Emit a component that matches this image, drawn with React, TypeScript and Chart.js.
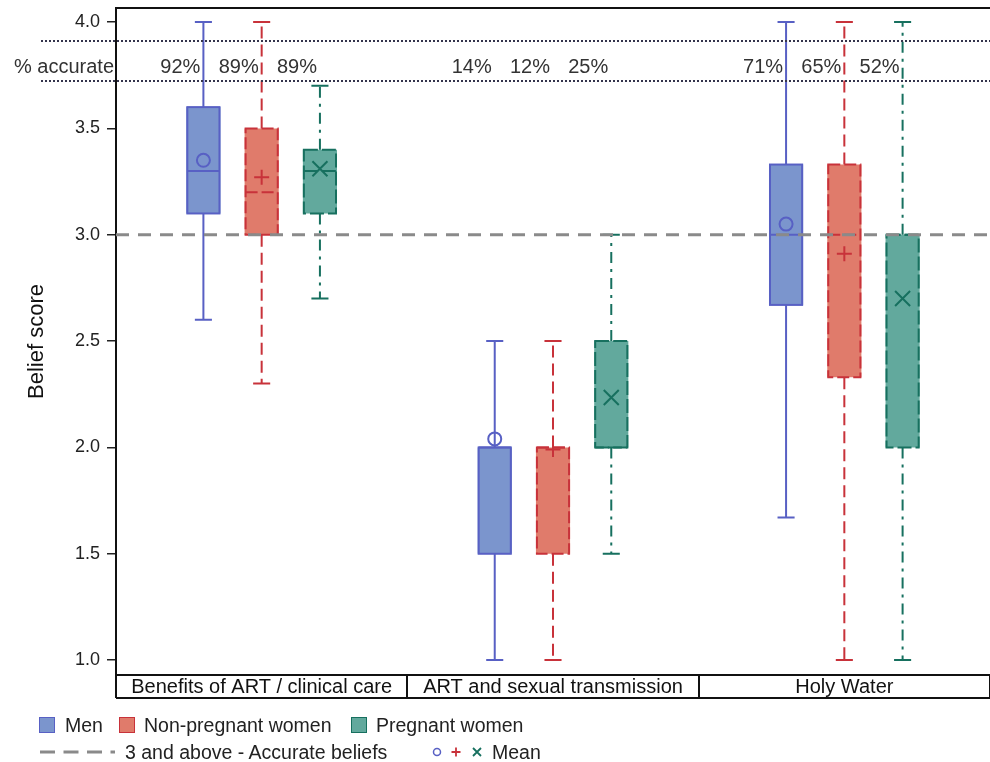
import React, { useEffect, useRef } from 'react';
import { Chart, registerables } from 'chart.js';
Chart.register(...registerables);

const FONT = '"Liberation Sans", Arial, Helvetica, sans-serif';

const CATEGORIES = ['Benefits of ART / clinical care', 'ART and sexual transmission', 'Holy Water'];
const SERIES_NAMES = ['Men', 'Non-pregnant women', 'Pregnant women'];
// five-number summaries per category: [min, q1, median, q3, max]
const MEN_BOX = [[2.6, 3.1, 3.3, 3.6, 4.0], [1.0, 1.5, 2.0, 2.0, 2.5], [1.67, 2.67, 3.0, 3.33, 4.0]];
const NONPREG_BOX = [[2.3, 3.0, 3.2, 3.5, 4.0], [1.0, 1.5, 2.0, 2.0, 2.5], [1.0, 2.33, 3.0, 3.33, 4.0]];
const PREG_BOX = [[2.7, 3.1, 3.3, 3.4, 3.7], [1.5, 2.0, 2.0, 2.5, 3.0], [1.0, 2.0, 3.0, 3.0, 4.0]];
const MEN_MEAN = [3.35, 2.04, 3.05];
const NONPREG_MEAN = [3.27, 1.99, 2.91];
const PREG_MEAN = [3.31, 2.235, 2.7];
const MEN_PCT = [92, 14, 71];
const NONPREG_PCT = [89, 12, 65];
const PREG_PCT = [89, 25, 52];
const Y_TICKS = [1.0, 1.5, 2.0, 2.5, 3.0, 3.5, 4.0];
const Y_MIN = 0.93;
const Y_MAX = 4.066;
const ACCURATE_THRESHOLD = 3.0;
const ACC_ROW_LINES = [3.723, 3.911];
const ACC_ROW_TEXT = 3.786;

const BOXES = [MEN_BOX, NONPREG_BOX, PREG_BOX];
const MEANS = [MEN_MEAN, NONPREG_MEAN, PREG_MEAN];
const PCTS = [MEN_PCT, NONPREG_PCT, PREG_PCT];

const FILLS = ['#7b95cd', '#e07b6b', '#62a99d'];
const BORDERS = ['#5860c4', '#c8323a', '#17705f'];
const WHISKER_DASH = [[], [12, 6], [11, 6, 3, 6]];
const BOX_DASH = [[], [12, 4], [14, 4]];

function drawMarker(ctx: CanvasRenderingContext2D, kind: number, x: number, y: number) {
  ctx.beginPath();
  if (kind === 0) {
    ctx.arc(x, y, 6.5, 0, Math.PI * 2);
  } else if (kind === 1) {
    ctx.moveTo(x - 7.5, y);
    ctx.lineTo(x + 7.5, y);
    ctx.moveTo(x, y - 7.5);
    ctx.lineTo(x, y + 7.5);
  } else {
    ctx.moveTo(x - 7.5, y - 7.5);
    ctx.lineTo(x + 7.5, y + 7.5);
    ctx.moveTo(x + 7.5, y - 7.5);
    ctx.lineTo(x - 7.5, y + 7.5);
  }
  ctx.stroke();
}

const boxPlugin = {
  id: 'boxExtras',
  afterDatasetsDraw(chart: any) {
    const ctx = chart.ctx;
    const ys = chart.scales.y;
    const xs = chart.scales.x;
    const { left, right, top } = chart.chartArea;
    ctx.save();
    BOXES.forEach((box, d) => {
      const meta = chart.getDatasetMeta(d);
      meta.data.forEach((el: any, i: number) => {
        const [mn, q1, med, q3, mx] = box[i];
        const x = el.x;
        const w = el.width;
        const pMin = ys.getPixelForValue(mn);
        const pQ1 = ys.getPixelForValue(q1);
        const pMed = ys.getPixelForValue(med);
        const pQ3 = ys.getPixelForValue(q3);
        const pMax = ys.getPixelForValue(mx);
        ctx.strokeStyle = BORDERS[d];
        ctx.lineWidth = 2;
        ctx.setLineDash(WHISKER_DASH[d]);
        ctx.beginPath();
        ctx.moveTo(x, pQ3);
        ctx.lineTo(x, pMax);
        ctx.moveTo(x, pQ1);
        ctx.lineTo(x, pMin);
        ctx.stroke();
        ctx.setLineDash([]);
        ctx.beginPath();
        ctx.moveTo(x - w / 4, pMax);
        ctx.lineTo(x + w / 4, pMax);
        ctx.moveTo(x - w / 4, pMin);
        ctx.lineTo(x + w / 4, pMin);
        ctx.stroke();
        ctx.setLineDash(BOX_DASH[d]);
        ctx.strokeRect(x - w / 2 + 1, pQ3, w - 2, pQ1 - pQ3);
        ctx.beginPath();
        ctx.moveTo(x - w / 2 + 1, pMed);
        ctx.lineTo(x + w / 2 - 1, pMed);
        ctx.stroke();
        ctx.setLineDash([]);
        drawMarker(ctx, d, x, ys.getPixelForValue(MEANS[d][i]));
      });
    });
    ctx.setLineDash([13, 9]);
    ctx.strokeStyle = '#8a8a8a';
    ctx.lineWidth = 3;
    const pRef = ys.getPixelForValue(ACCURATE_THRESHOLD);
    ctx.beginPath();
    ctx.moveTo(left, pRef);
    ctx.lineTo(right, pRef);
    ctx.stroke();
    ctx.setLineDash([2, 2]);
    ctx.strokeStyle = '#34344c';
    ctx.lineWidth = 2;
    ACC_ROW_LINES.forEach((v) => {
      const p = ys.getPixelForValue(v);
      ctx.beginPath();
      ctx.moveTo(41, p);
      ctx.lineTo(right, p);
      ctx.stroke();
    });
    ctx.setLineDash([]);
    ctx.fillStyle = '#333';
    ctx.font = `20px ${FONT}`;
    ctx.textBaseline = 'middle';
    ctx.textAlign = 'right';
    const pText = ys.getPixelForValue(ACC_ROW_TEXT);
    ctx.fillText('% accurate', left - 2, pText);
    PCTS.forEach((arr, d) => {
      const meta = chart.getDatasetMeta(d);
      meta.data.forEach((el: any, i: number) => {
        ctx.fillText(`${arr[i]}%`, el.x - 3, pText);
      });
    });
    ctx.strokeStyle = '#111';
    ctx.lineWidth = 2;
    ctx.beginPath();
    ctx.moveTo(left, top);
    ctx.lineTo(right, top);
    ctx.moveTo(left, xs.bottom);
    ctx.lineTo(right, xs.bottom);
    ctx.stroke();
    ctx.restore();
  },
};

export default function App() {
  const ref = useRef<HTMLCanvasElement | null>(null);
  useEffect(() => {
    if (!ref.current) return;
    Chart.defaults.font.family = FONT;
    const barSets = BOXES.map((box, d) => ({
      label: SERIES_NAMES[d],
      data: box.map((b) => [b[1], b[3]]),
      backgroundColor: FILLS[d],
      borderWidth: 0,
      categoryPercentage: 0.6,
      barPercentage: 0.586,
    }));
    const chart = new Chart(ref.current, {
      type: 'bar',
      data: { labels: CATEGORIES, datasets: barSets as any },
      options: {
        responsive: false,
        animation: false,
        devicePixelRatio: 1,
        layout: { padding: { left: 0, right: 0, top: 8, bottom: 64 } },
        plugins: { legend: { display: false }, tooltip: { enabled: false } },
        scales: {
          x: {
            type: 'category',
            offset: true,
            grid: { display: true, drawOnChartArea: false, drawTicks: true, tickLength: 23, color: '#111', lineWidth: 2, offset: true },
            border: { display: true, color: '#111', width: 2 },
            ticks: { padding: -23, font: { size: 20 }, color: '#111', maxRotation: 0, minRotation: 0, autoSkip: false },
            afterFit: (s: any) => {
              s.height = 23;
              s.paddingLeft = 0;
              s.paddingRight = 0;
            },
          },
          y: {
            type: 'linear',
            min: Y_MIN,
            max: Y_MAX,
            afterBuildTicks: (s: any) => {
              s.ticks = Y_TICKS.map((v) => ({ value: v }));
            },
            grid: { display: true, drawOnChartArea: false, drawTicks: true, tickLength: 9, color: '#222', lineWidth: 1.5 },
            border: { display: true, color: '#111', width: 2 },
            ticks: { padding: 7, font: { size: 18 }, color: '#222', callback: (v: any) => Number(v).toFixed(1) },
            title: { display: true, text: 'Belief score', font: { size: 22 }, color: '#111', padding: { top: 24, bottom: 0 } },
            afterFit: (s: any) => {
              s.width = 116;
              s.paddingTop = 0;
              s.paddingBottom = 0;
            },
          },
        },
      } as any,
      plugins: [boxPlugin],
    });
    return () => chart.destroy();
  }, []);

  const txt = (left: number, center: number, s: string) => (
    <span style={{ position: 'absolute', left, top: center - 12, fontSize: 19.5, lineHeight: '24px', color: '#222', whiteSpace: 'nowrap' }}>{s}</span>
  );
  const sq = (left: number, d: number) => (
    <div style={{ position: 'absolute', left, top: 717, width: 14, height: 14, background: FILLS[d], border: `1px solid ${BORDERS[d]}` }} />
  );

  return (
    <div style={{ position: 'absolute', left: 0, top: 0, width: 990, height: 762, fontFamily: FONT, background: '#fff' }}>
      <canvas ref={ref} width={990} height={762} style={{ display: 'block' }} />
      {sq(39, 0)}
      {txt(65, 725, SERIES_NAMES[0])}
      {sq(119, 1)}
      {txt(144, 725, SERIES_NAMES[1])}
      {sq(351, 2)}
      {txt(376, 725, SERIES_NAMES[2])}
      <svg style={{ position: 'absolute', left: 40, top: 745 }} width={76} height={14}>
        <line x1={0} y1={7} x2={75} y2={7} stroke="#8a8a8a" strokeWidth={3} strokeDasharray="15 8.5" />
      </svg>
      {txt(125, 752, '3 and above - Accurate beliefs')}
      <svg style={{ position: 'absolute', left: 428, top: 745 }} width={60} height={14}>
        <circle cx={9} cy={7} r={3.5} fill="none" stroke={BORDERS[0]} strokeWidth={1.5} />
        <path d="M28 2.5 L28 11.5 M23.5 7 L32.5 7" stroke={BORDERS[1]} strokeWidth={1.8} />
        <path d="M45 3 L53 11 M53 3 L45 11" stroke={BORDERS[2]} strokeWidth={1.8} />
      </svg>
      {txt(492, 752, 'Mean')}
    </div>
  );
}
